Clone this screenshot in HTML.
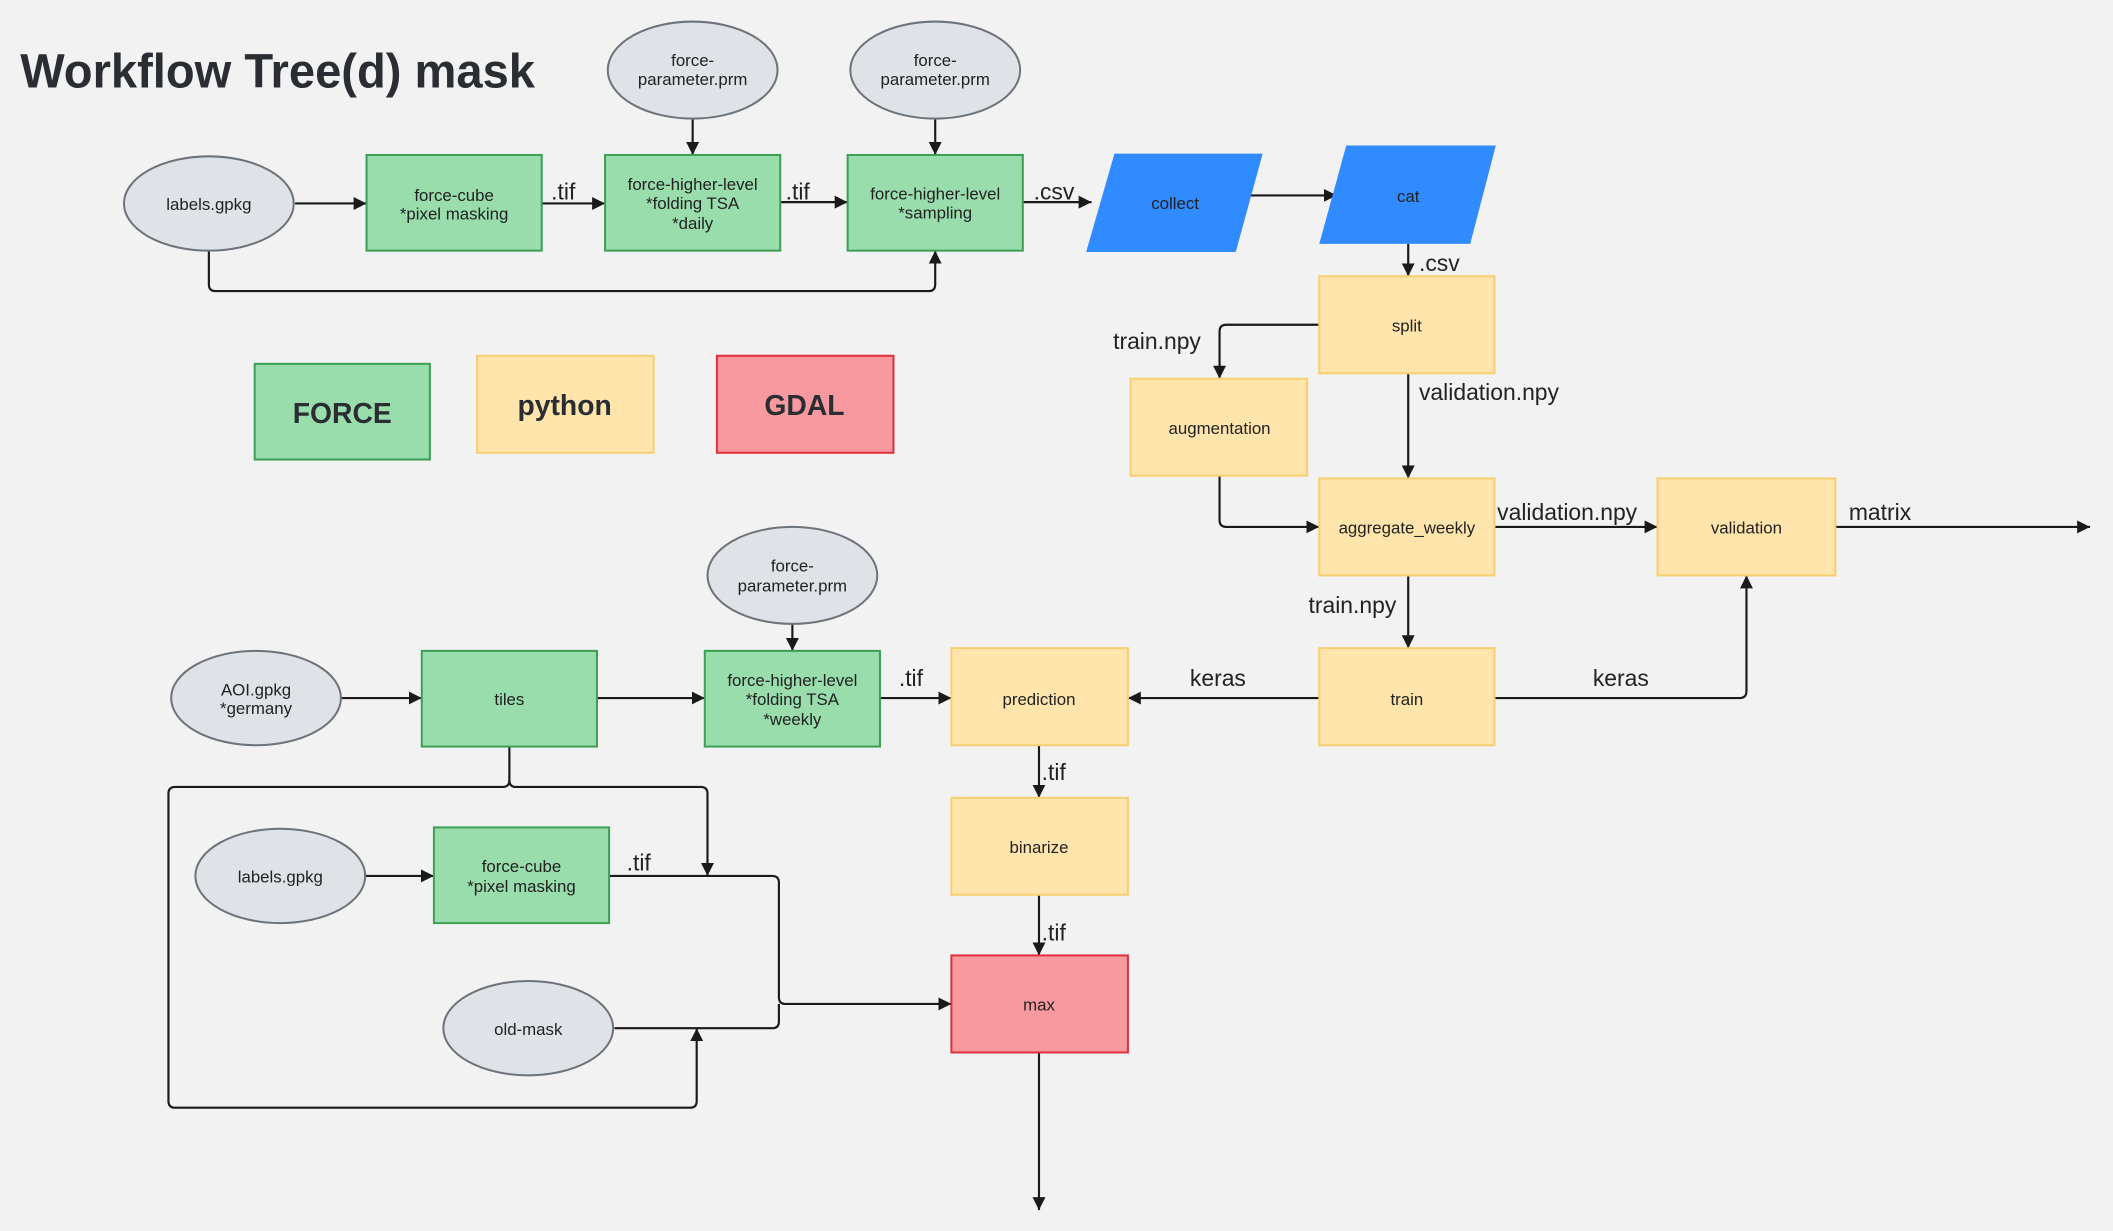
<!DOCTYPE html>
<html><head><meta charset="utf-8"><style>
html,body{margin:0;padding:0;background:#f2f2f2;}
svg{display:block;}
text{font-family:"Liberation Sans","DejaVu Sans",sans-serif;fill:#222;}
.n{font-size:12.5px;text-anchor:middle;}
.l{font-size:17px;}
.c{fill:none;stroke:#1a1a1a;stroke-width:1.6;}
.g{fill:#98ddab;stroke:#3c9f55;stroke-width:1.5;}
.y{fill:#ffe4ab;stroke:#f7cf72;stroke-width:1.5;}
.r{fill:#f8999f;stroke:#e0303c;stroke-width:1.5;}
.e{fill:#dfe2e6;stroke:#6e737a;stroke-width:1.5;}
.b{fill:#2f8bff;}
</style></head><body>
<svg width="2113" height="1231" viewBox="0 0 1568 913.5" preserveAspectRatio="none" xmlns="http://www.w3.org/2000/svg">
<defs><marker id="a" viewBox="0 0 10 10" refX="10" refY="5" markerWidth="6" markerHeight="6" orient="auto"><path d="M0,0L10,5L0,10z" fill="#1a1a1a"/></marker></defs>
<rect width="1568" height="913.5" fill="#f2f2f2"/>
<text x="15" y="65" style="font-size:36px;font-weight:bold;fill:#2a2e33" textLength="382" lengthAdjust="spacingAndGlyphs">Workflow Tree(d) mask</text>

<!-- connectors -->
<g class="c" marker-end="url(#a)">
<path d="M219,151H272"/><path d="M402,151H449"/><path d="M579,150H629"/><path d="M759,150H810"/>
<path d="M155,186V211q0,5 5,5H689q5,0 5,-5V186"/>
<path d="M514,88V115"/><path d="M694,88V115"/>
<path d="M925,145H992"/>
<path d="M1045,181V205"/>
<path d="M979,241H910q-5,0 -5,5V281"/>
<path d="M1045,277V355"/>
<path d="M905,353V386q0,5 5,5H979"/>
<path d="M1109,391H1230"/>
<path d="M1362,391H1551"/>
<path d="M1045,427V481"/>
<path d="M979,518H837"/>
<path d="M1109,518H1291q5,0 5,-5V427"/>
<path d="M253,518H313"/><path d="M443,518H523"/><path d="M588,463V483"/><path d="M653,518H706"/>
<path d="M771,553V592"/><path d="M771,664V709"/><path d="M771,781V898"/>
<path d="M378,554V579q0,5 -5,5H130q-5,0 -5,5V817q0,5 5,5H512q5,0 5,-5V763"/>
<path d="M378,579q0,5 5,5H520q5,0 5,5V650"/>
<path d="M271,650H322"/>
<path d="M452,650H573q5,0 5,5V740q0,5 5,5H706"/>
</g>
<path class="c" d="M456,763H573q5,0 5,-5V745"/>

<!-- ellipses -->
<ellipse class="e" cx="514" cy="52" rx="63" ry="36"/>
<ellipse class="e" cx="694" cy="52" rx="63" ry="36"/>
<ellipse class="e" cx="155" cy="151" rx="63" ry="35"/>
<ellipse class="e" cx="588" cy="427" rx="63" ry="36"/>
<ellipse class="e" cx="190" cy="518" rx="63" ry="35"/>
<ellipse class="e" cx="208" cy="650" rx="63" ry="35"/>
<ellipse class="e" cx="392" cy="763" rx="63" ry="35"/>
<text class="n" x="514" y="49">force-</text><text class="n" x="514" y="63">parameter.prm</text>
<text class="n" x="694" y="49">force-</text><text class="n" x="694" y="63">parameter.prm</text>
<text class="n" x="588" y="424">force-</text><text class="n" x="588" y="439">parameter.prm</text>
<text class="n" x="155" y="156">labels.gpkg</text>
<text class="n" x="190" y="516">AOI.gpkg</text><text class="n" x="190" y="530">*germany</text>
<text class="n" x="208" y="655">labels.gpkg</text>
<text class="n" x="392" y="768">old-mask</text>

<!-- rects -->
<rect class="g" x="272" y="115" width="130" height="71"/>
<rect class="g" x="449" y="115" width="130" height="71"/>
<rect class="g" x="629" y="115" width="130" height="71"/>
<rect class="g" x="189" y="270" width="130" height="71"/>
<rect class="y" x="354" y="264" width="131" height="72"/>
<rect class="r" x="532" y="264" width="131" height="72"/>
<rect class="y" x="979" y="205" width="130" height="72"/>
<rect class="y" x="839" y="281" width="131" height="72"/>
<rect class="y" x="979" y="355" width="130" height="72"/>
<rect class="y" x="1230" y="355" width="132" height="72"/>
<rect class="y" x="979" y="481" width="130" height="72"/>
<rect class="y" x="706" y="481" width="131" height="72"/>
<rect class="y" x="706" y="592" width="131" height="72"/>
<rect class="r" x="706" y="709" width="131" height="72"/>
<rect class="g" x="313" y="483" width="130" height="71"/>
<rect class="g" x="523" y="483" width="130" height="71"/>
<rect class="g" x="322" y="614" width="130" height="71"/>
<polygon class="b" points="827,114 937,114 917,187 806,187"/>
<polygon class="b" points="999,108 1110,108 1091,181 979,181"/>

<text class="n" x="337" y="149">force-cube</text><text class="n" x="337" y="163">*pixel masking</text>
<text class="n" x="514" y="141">force-higher-level</text><text class="n" x="514" y="155">*folding TSA</text><text class="n" x="514" y="170">*daily</text>
<text class="n" x="694" y="148">force-higher-level</text><text class="n" x="694" y="162">*sampling</text>
<text x="254" y="314" style="font-size:21px;font-weight:bold;text-anchor:middle;fill:#2a2e33">FORCE</text>
<text x="419" y="308" style="font-size:21px;font-weight:bold;text-anchor:middle;fill:#2a2e33">python</text>
<text x="597" y="308" style="font-size:21px;font-weight:bold;text-anchor:middle;fill:#2a2e33">GDAL</text>
<text class="n" x="872" y="155">collect</text>
<text class="n" x="1045" y="150">cat</text>
<text class="n" x="1044" y="246">split</text>
<text class="n" x="905" y="322">augmentation</text>
<text class="n" x="1044" y="396">aggregate_weekly</text>
<text class="n" x="1296" y="396">validation</text>
<text class="n" x="1044" y="523">train</text>
<text class="n" x="771" y="523">prediction</text>
<text class="n" x="771" y="633">binarize</text>
<text class="n" x="771" y="750">max</text>
<text class="n" x="378" y="523">tiles</text>
<text class="n" x="588" y="509">force-higher-level</text><text class="n" x="588" y="523">*folding TSA</text><text class="n" x="588" y="538">*weekly</text>
<text class="n" x="387" y="647">force-cube</text><text class="n" x="387" y="662">*pixel masking</text>

<!-- connector labels -->
<text class="l" x="409" y="148">.tif</text>
<text class="l" x="583" y="148">.tif</text>
<text class="l" x="767" y="148">.csv</text>
<text class="l" x="1053" y="201">.csv</text>
<text class="l" x="826" y="259">train.npy</text>
<text class="l" x="1053" y="297">validation.npy</text>
<text class="l" x="1111" y="386">validation.npy</text>
<text class="l" x="1372" y="386">matrix</text>
<text class="l" x="971" y="455">train.npy</text>
<text class="l" x="883" y="509">keras</text>
<text class="l" x="1182" y="509">keras</text>
<text class="l" x="667" y="509">.tif</text>
<text class="l" x="773" y="579">.tif</text>
<text class="l" x="773" y="698">.tif</text>
<text class="l" x="465" y="646">.tif</text>
</svg>
</body></html>
